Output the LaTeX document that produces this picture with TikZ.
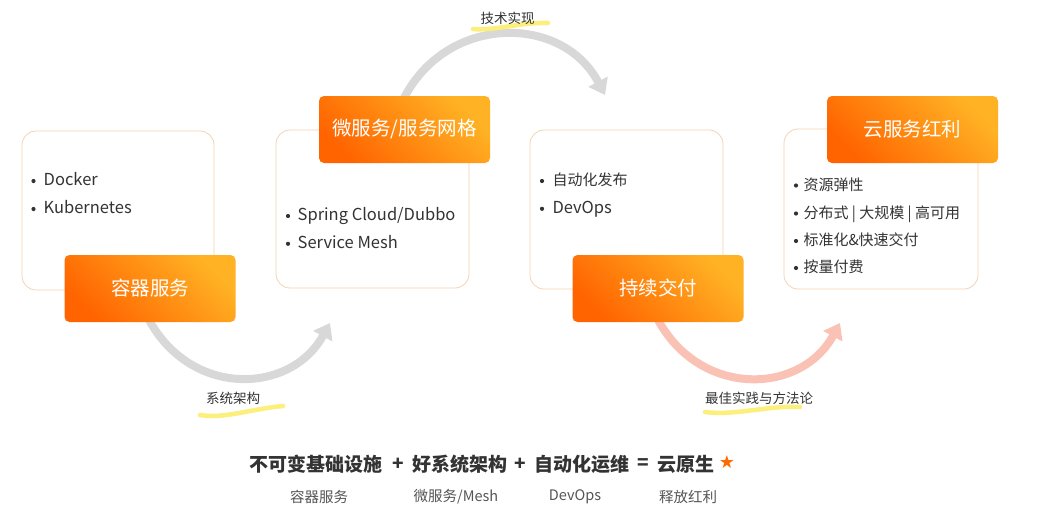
\documentclass[tikz,border=0pt]{standalone}
\usepackage{fontspec}
\setmainfont{Noto Sans CJK SC}
\newfontfamily\symfont{DejaVu Sans}
\usetikzlibrary{arrows.meta}
\definecolor{cardline}{HTML}{F5D3B5}
\definecolor{tagO}{HTML}{FF6400}
\definecolor{tagY}{HTML}{FFB324}
\definecolor{textdark}{HTML}{333333}
\definecolor{textgray}{HTML}{555555}
\definecolor{arcgray}{HTML}{D8D8D8}
\definecolor{arcpink}{HTML}{FAC2B4}
\definecolor{hlyellow}{HTML}{FCEF7C}
\definecolor{starorange}{HTML}{FF6A00}
\begin{document}
\begin{tikzpicture}[x=1pt,y=-1pt,
  card/.style={draw=cardline, line width=0.8pt, rounded corners=14pt, fill=white, inner sep=0pt},
  tag/.style={rounded corners=5pt, top color=tagY, bottom color=tagO, shading angle=-45, text=white, font=\fontsize{19.5}{22}\selectfont, inner sep=0pt, minimum width=171pt, minimum height=67pt},
  item/.style={anchor=base west, text=textdark, font=\fontsize{15}{18}\selectfont, inner sep=0pt},
  itemlat/.style={item, font=\fontsize{16.5}{19}\selectfont},
  bul/.style={fill=textdark},
  flow/.style={line width=8pt, -{Triangle[width=21pt,length=15pt]}},
  hl/.style={line width=4.5pt, draw=hlyellow, line cap=round},
  lab/.style={font=\fontsize{13.5}{16}\selectfont, text=textdark, inner sep=0pt},
  formula/.style={font=\bfseries\fontsize{19}{22}\selectfont, text=textdark, inner sep=0pt},
  sub/.style={font=\fontsize{14.5}{17}\selectfont, text=textgray, inner sep=0pt}]
\useasboundingbox (0,0) rectangle (1056,525);
\fill[white] (0,0) rectangle (1056,525);

% cards
\node[card, minimum width=192pt, minimum height=159pt] (c1) at (118,210.5) {};
\node[card, minimum width=193pt, minimum height=158pt] (c2) at (372.5,209) {};
\node[card, minimum width=193pt, minimum height=159pt] (c3) at (626.5,209.5) {};
\node[card, minimum width=194pt, minimum height=160pt] (c4) at (881,209) {};

% flow arcs
\coordinate (a1s) at (148,318);
\coordinate (a1e) at (330,323);
\draw[flow, draw=arcgray] (a1s) .. controls (190,398) and (290.5,394.8) .. (a1e);
\coordinate (a2s) at (403,100);
\coordinate (a2e) at (605,95);
\draw[flow, draw=arcgray] (a2s) .. controls (445.8,13.6) and (562.2,13.6) .. (a2e);
\coordinate (a3s) at (657,318);
\coordinate (a3e) at (840,323);
\draw[flow, draw=arcpink] (a3s) .. controls (699,398) and (800.5,395.3) .. (a3e);

% tags
\node[tag] (t1) at (150,288.5) {容器服务};
\node[tag] (t2) at (404.5,129.5) {微服务/服务网格};
\node[tag] (t3) at (658,288.5) {持续交付};
\node[tag] (t4) at (912.5,129.5) {云服务红利};

% items card 1
\fill[bul] (33.5,181) circle (2.1);
\node[itemlat] (i11) at (43.5,185.5) {Docker};
\fill[bul] (33.5,209) circle (2.1);
\node[itemlat] (i12) at (43.5,213.5) {Kubernetes};
% card 2
\fill[bul] (288,216) circle (2.1);
\node[itemlat] (i21) at (297.5,220.5) {Spring Cloud/Dubbo};
\fill[bul] (288,243.8) circle (2.1);
\node[itemlat] (i22) at (297.5,248.3) {Service Mesh};
% card 3
\fill[bul] (542,181) circle (2.1);
\node[item] (i31) at (552.3,185.5) {自动化发布};
\fill[bul] (542,208.8) circle (2.1);
\node[itemlat] (i32) at (552.3,213.3) {DevOps};
% card 4
\fill[bul] (796,185.5) circle (2.1);
\node[item] (i41) at (803.3,190) {资源弹性};
\fill[bul] (796,213.5) circle (2.1);
\node[item] (i42) at (803.3,218) {分布式 | 大规模 | 高可用};
\fill[bul] (796,241) circle (2.1);
\node[item] (i43) at (803.3,245.5) {标准化\&快速交付};
\fill[bul] (796,268) circle (2.1);
\node[item] (i44) at (803.3,272.5) {按量付费};

% highlights and labels
\draw[hl] (200,415) .. controls (225,419) and (250,409) .. (283,406);
\node[lab] (l1) at (233,398) {系统架构};
\draw[hl] (473,29) .. controls (495,31) and (520,22) .. (548,23);
\node[lab] (l2) at (507.5,18.5) {技术实现};
\draw[hl] (705,412) .. controls (735,416) and (770,405) .. (800,407);
\node[lab] (l3) at (759,398.5) {最佳实践与方法论};

% formula
\node[formula] (f1) at (315.5,464) {不可变基础设施};
\node[formula] (p1) at (398,464) {+};
\node[formula] (f2) at (459.5,464) {好系统架构};
\node[formula] (p2) at (520,464) {+};
\node[formula] (f3) at (581.5,464) {自动化运维};
\node[formula] (eq) at (643,464) {=};
\node[formula] (f4) at (685.5,464) {云原生};
\node[inner sep=0pt, text=starorange, font=\symfont\fontsize{18}{20}\selectfont] (star) at (727,462) {★};

\node[sub] (s1) at (319,496.5) {容器服务};
\node[sub] (s2) at (456,496.5) {微服务/Mesh};
\node[sub] (s3) at (575,496.5) {DevOps};
\node[sub] (s4) at (688,496.5) {释放红利};
\end{tikzpicture}
\end{document}
